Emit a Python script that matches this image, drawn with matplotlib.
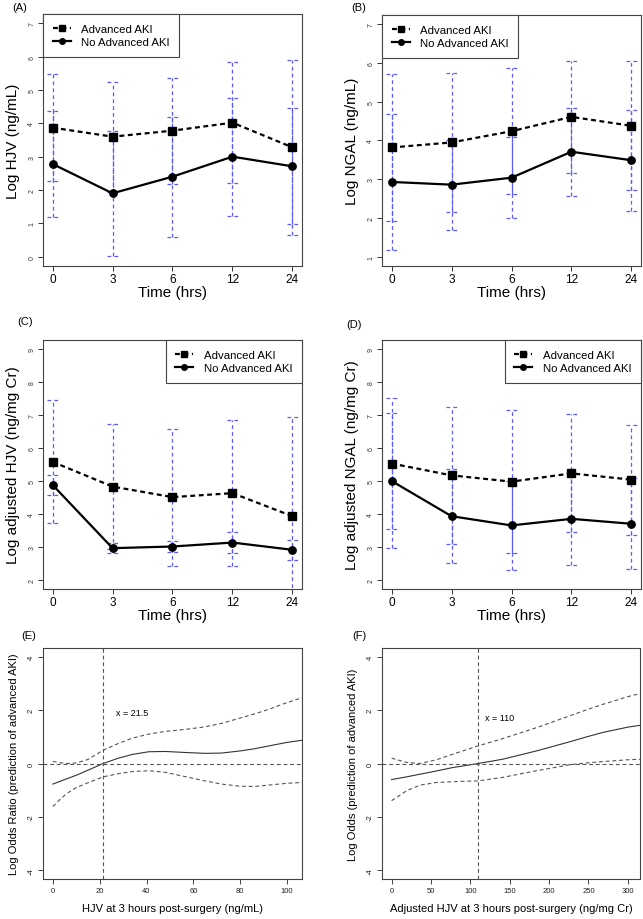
import numpy as np
import matplotlib
matplotlib.use('Agg')
from matplotlib import pyplot as plt
from matplotlib.lines import Line2D

plt.rcParams['font.family'] = ['Liberation Sans', 'DejaVu Sans']

time_labels = ['0', '3', '6', '12', '24']

hjv_adv = [3.87, 3.60, 3.78, 4.02, 3.28]
hjv_adv_sd = [1.60, 1.65, 1.59, 1.81, 2.63]
hjv_no = [2.78, 1.90, 2.40, 3.00, 2.71]
hjv_no_sd = [1.60, 1.88, 1.80, 1.77, 1.74]

ngal_adv = [3.82, 3.95, 4.24, 4.61, 4.38]
ngal_adv_sd = [1.90, 1.79, 1.62, 1.45, 1.66]
ngal_no = [2.93, 2.86, 3.04, 3.71, 3.49]
ngal_no_sd = [1.75, 1.16, 1.05, 1.13, 1.30]

adj_hjv_adv = [5.58, 4.83, 4.51, 4.63, 3.93]
adj_hjv_adv_sd = [1.87, 1.89, 2.08, 2.21, 3.00]
adj_hjv_no = [4.88, 2.96, 3.01, 3.13, 2.91]
adj_hjv_no_sd = [0.30, 0.16, 0.18, 0.31, 0.31]

adj_ngal_adv = [5.53, 5.17, 4.98, 5.23, 5.04]
adj_ngal_adv_sd = [2.00, 2.08, 2.16, 1.79, 1.67]
adj_ngal_no = [5.00, 3.93, 3.65, 3.85, 3.70]
adj_ngal_no_sd = [2.05, 1.42, 1.36, 1.39, 1.38]

# spline curves (E)
e_x = [0, 3, 6, 10, 15, 21.5, 28, 34, 41, 48, 57, 65, 72, 80, 86, 93, 100, 106.5]
e_fit = [-0.77, -0.67, -0.57, -0.44, -0.25, 0.0, 0.2, 0.34, 0.44, 0.45, 0.41, 0.38, 0.39, 0.47, 0.55, 0.67, 0.79, 0.87]
e_upper = [0.08, 0.03, 0.0, 0.02, 0.15, 0.5, 0.75, 0.95, 1.1, 1.2, 1.28, 1.37, 1.5, 1.7, 1.85, 2.05, 2.28, 2.46]
e_lower = [-1.61, -1.35, -1.12, -0.9, -0.72, -0.5, -0.38, -0.3, -0.27, -0.33, -0.5, -0.65, -0.77, -0.85, -0.86, -0.8, -0.74, -0.71]
e_cut = 21.5

# spline curves (F)
f_x = [0, 19, 36, 57, 78, 110, 141, 184, 226, 247, 268, 300, 316]
f_fit = [-0.6, -0.5, -0.4, -0.28, -0.15, 0.0, 0.16, 0.47, 0.81, 0.99, 1.16, 1.36, 1.43]
f_upper = [0.2, 0.04, 0.0, 0.14, 0.35, 0.66, 0.93, 1.34, 1.78, 2.0, 2.21, 2.5, 2.62]
f_lower = [-1.39, -1.02, -0.81, -0.71, -0.68, -0.65, -0.52, -0.27, -0.05, 0.02, 0.07, 0.14, 0.16]
f_cut = 110

W, H = 643, 920
fig = plt.figure(figsize=(W / 100, H / 100), dpi=100)


def make_ax(left, right, top, bottom):
    return fig.add_axes([left / W, 1 - bottom / H, (right - left) / W, (bottom - top) / H])


def style_box(ax):
    for sp in ax.spines.values():
        sp.set_color('#444444')
        sp.set_linewidth(0.8)


blue = '#5a5aff'


def time_panel(ax, adv, adv_sd, no, no_sd, ylo, yhi, ylabel, legend_loc):
    x = np.arange(1, len(time_labels) + 1)
    for m, s in [(adv, adv_sd), (no, no_sd)]:
        m = np.array(m)
        s = np.array(s)
        ax.vlines(x, m - s, m + s, colors=blue, linestyles=(0, (3, 2.5)), linewidth=0.9, zorder=2)
        ax.hlines(m - s, x - 0.09, x + 0.09, colors=blue, linestyles=(0, (3, 2.5)), linewidth=0.9, zorder=2)
        ax.hlines(m + s, x - 0.09, x + 0.09, colors=blue, linestyles=(0, (3, 2.5)), linewidth=0.9, zorder=2)
    ax.plot(x, adv, color='black', linestyle=(0, (2.2, 1.6)), linewidth=1.6, marker='s', markersize=5.3, zorder=3)
    ax.plot(x, no, color='black', linestyle='-', linewidth=1.6, marker='o', markersize=5.3, zorder=3)
    pad = (yhi - ylo) * 0.04
    ax.set_ylim(ylo - pad, yhi + pad)
    ax.set_xlim(0.84, 5.16)
    ax.set_yticks(range(ylo, yhi + 1))
    ax.set_yticklabels([str(v) for v in range(ylo, yhi + 1)], rotation=90, va='center', fontsize=5)
    ax.set_xticks(x)
    ax.set_xticklabels(time_labels, fontsize=8.5)
    ax.tick_params(axis='y', length=3.5, width=0.7, pad=2, colors='#333333')
    ax.tick_params(axis='x', length=3.5, width=0.7, pad=1.5, colors='#333333', labelcolor='black')
    ax.set_xlabel('Time (hrs)', fontsize=11, labelpad=0)
    ax.set_ylabel(ylabel, fontsize=11, labelpad=6)
    style_box(ax)
    handles = [
        Line2D([], [], color='black', linestyle=(0, (2.2, 1.6)), linewidth=1.6, marker='s', markersize=4),
        Line2D([], [], color='black', linestyle='-', linewidth=1.6, marker='o', markersize=4),
    ]
    leg = ax.legend(handles, ['Advanced AKI', 'No Advanced AKI'], loc=legend_loc, fontsize=8.2,
                    borderaxespad=0, fancybox=False, edgecolor='#444444', framealpha=1,
                    handlelength=1.6, handletextpad=0.9, labelspacing=0.3, borderpad=0.85)
    leg.get_frame().set_linewidth(0.8)


def spline_panel(ax, xs, fit, upper, lower, cut, xlim, xticks, xlabel, ylabel):
    ax.plot(xs, fit, color='#333333', linewidth=0.8)
    ax.plot(xs, upper, color='#555555', linewidth=0.8, linestyle=(0, (3.5, 2.5)))
    ax.plot(xs, lower, color='#555555', linewidth=0.8, linestyle=(0, (3.5, 2.5)))
    ax.axhline(0, color='#555555', linewidth=0.8, linestyle=(0, (3.5, 2.5)))
    ax.axvline(cut, color='#555555', linewidth=0.8, linestyle=(0, (3.5, 2.5)))
    ax.set_xlim(*xlim)
    ax.set_ylim(-4.32, 4.32)
    ax.set_yticks([-4, -2, 0, 2, 4])
    ax.set_yticklabels(['-4', '-2', '0', '2', '4'], rotation=90, va='center', fontsize=5.5)
    ax.set_xticks(xticks)
    ax.set_xticklabels([str(v) for v in xticks], fontsize=5.5)
    ax.tick_params(axis='both', length=3.5, width=0.7, pad=2.5, colors='#444444', labelcolor='#222222')
    ax.set_xlabel(xlabel, fontsize=8, labelpad=6)
    ax.set_ylabel(ylabel, fontsize=8, labelpad=6)
    style_box(ax)


ax_a = make_ax(43, 302, 15, 267)
time_panel(ax_a, hjv_adv, hjv_adv_sd, hjv_no, hjv_no_sd, 0, 7, 'Log HJV (ng/mL)', 'upper left')
ax_b = make_ax(382, 641, 16, 267)
time_panel(ax_b, ngal_adv, ngal_adv_sd, ngal_no, ngal_no_sd, 1, 7, 'Log NGAL (ng/mL)', 'upper left')
ax_c = make_ax(43, 302, 341, 590)
time_panel(ax_c, adj_hjv_adv, adj_hjv_adv_sd, adj_hjv_no, adj_hjv_no_sd, 2, 9, 'Log adjusted HJV (ng/mg Cr)', 'upper right')
ax_d = make_ax(382, 641, 341, 590)
time_panel(ax_d, adj_ngal_adv, adj_ngal_adv_sd, adj_ngal_no, adj_ngal_no_sd, 2, 9, 'Log adjusted NGAL (ng/mg Cr)', 'upper right')

ax_e = make_ax(43, 302, 649, 880)
spline_panel(ax_e, e_x, e_fit, e_upper, e_lower, e_cut, (-4.2, 106.4), [0, 20, 40, 60, 80, 100],
             'HJV at 3 hours post-surgery (ng/mL)', 'Log Odds Ratio (prediction of advanced AKI)')
ax_e.text(27, 1.9, 'x = 21.5', fontsize=6.5, va='center', ha='left')

ax_f = make_ax(382, 640, 649, 880)
spline_panel(ax_f, f_x, f_fit, f_upper, f_lower, f_cut, (-12.2, 315.5), [0, 50, 100, 150, 200, 250, 300],
             'Adjusted HJV at 3 hours post-surgery (ng/mg Cr)', 'Log Odds (prediction of advanced AKI)')
ax_f.text(118, 1.72, 'x = 110', fontsize=6.5, va='center', ha='left')

for lab, px, py in [('(A)', 20, 8), ('(B)', 359, 8), ('(C)', 25, 322), ('(D)', 354, 325), ('(E)', 29, 636), ('(F)', 359, 636)]:
    fig.text(px / W, 1 - py / H, lab, fontsize=8, ha='center', va='center')

fig.savefig('out.png', dpi=100)
